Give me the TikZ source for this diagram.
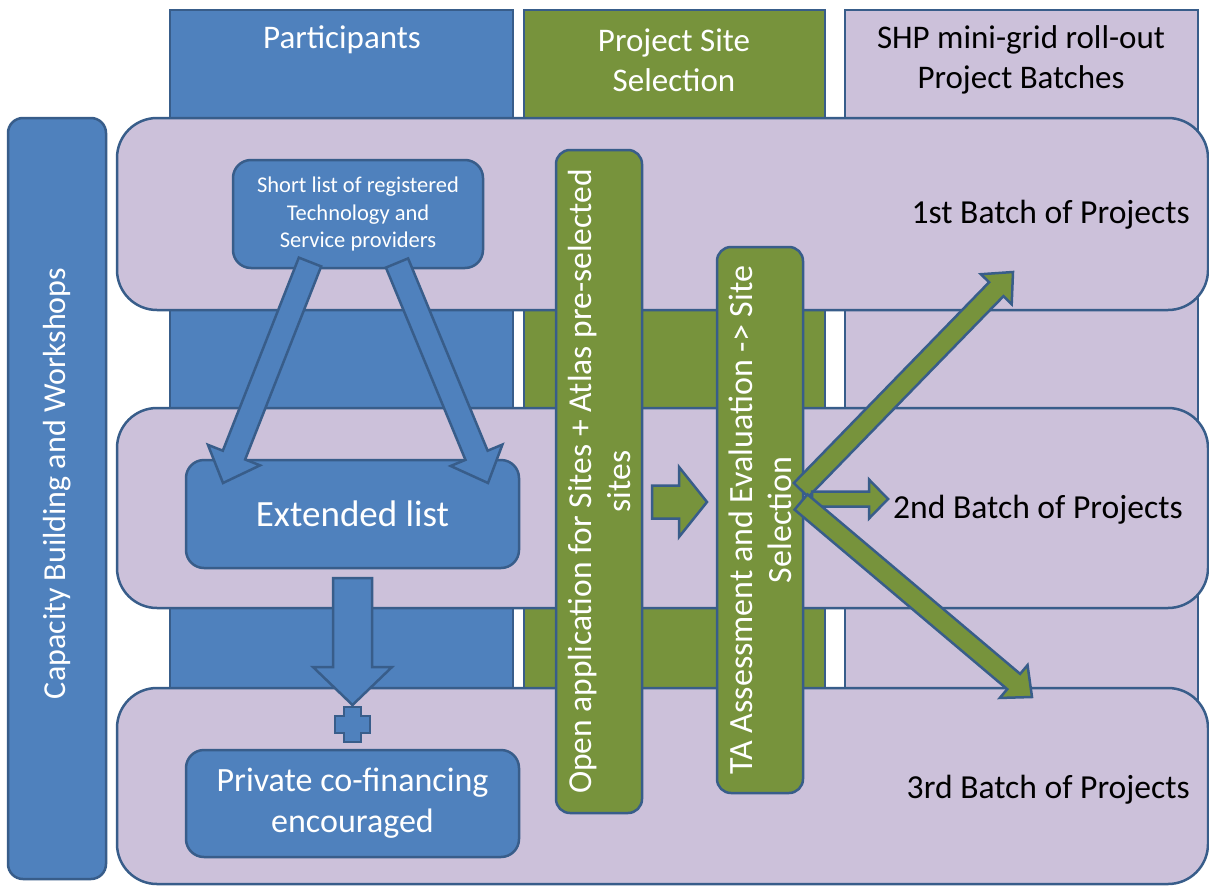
\documentclass[tikz,border=0pt]{standalone}
\usepackage{fontspec}
\setmainfont{Carlito}
\usetikzlibrary{calc}
\definecolor{cblue}{HTML}{4F81BD}
\definecolor{cedge}{HTML}{385D8A}
\definecolor{cgreen}{HTML}{77933C}
\definecolor{clav}{HTML}{CCC1DA}
\tikzset{
  colrect/.style={draw=cedge, line width=2.5pt},
  band/.style={draw=cedge, fill=clav, line width=2.5pt, rounded corners=40pt},
  bluebox/.style={draw=cedge, fill=cblue, line width=2.5pt, rounded corners=18pt, text=white, align=center, inner sep=0pt},
  greenbox/.style={draw=cedge, fill=cgreen, line width=2.5pt, rounded corners=14pt, text=white, align=center, inner sep=0pt},
  hdr/.style={align=center, inner sep=0pt, font=\fontsize{33}{40}\selectfont},
  batch/.style={inner sep=0pt, text=black},
  bluearr/.style={draw=cedge, fill=cblue, line width=2.5pt, line join=miter},
  greenarr/.style={draw=cedge, fill=cgreen, line width=2.5pt, line join=miter},
}
% #1 style, #2 tail, #3 tip, #4 half shaft, #5 half head, #6 head length
\newcommand{\blockarrow}[6]{%
  \path ($(#3)!#6!(#2)$) coordinate (hb);
  \draw[#1] ($(#2)!#4!90:(#3)$) -- ($(hb)!#4!-90:(#2)$) -- ($(hb)!#5!-90:(#2)$)
    -- (#3) -- ($(hb)!#5!90:(#2)$) -- ($(hb)!#4!90:(#2)$) -- ($(#2)!#4!-90:(#3)$) -- cycle;}
\begin{document}
\begin{tikzpicture}[x=1pt,y=-1pt]
\useasboundingbox[fill=white] (0,0) rectangle (1209,886);
% columns
\draw[colrect, fill=cblue] (170,10) rectangle (513,870);
\draw[colrect, fill=cgreen] (524,10) rectangle (825,870);
\draw[colrect, fill=clav] (845,10) rectangle (1198,870);
\node[hdr, text=white] (hpart) at (342,40) {Participants};
\node[hdr, text=white] (hsite) at (674,60) {Project Site\\Selection};
\node[hdr, text=black] (hshp) at (1021,60) {SHP mini-grid roll-out\\Project Batches};
% left box
\node[bluebox, rounded corners=15pt, minimum width=761pt, minimum height=98pt, rotate=90,
  font=\fontsize{32}{38}\selectfont] (cap) at (57,498.5) {\hspace*{30pt}Capacity Building and Workshops};
% bands
\draw[band] (117,118) rectangle (1208,310);
\draw[band] (117,408) rectangle (1208,608);
\draw[band] (117,688) rectangle (1208,884);
% batch labels
\node[batch, anchor=east, font=\fontsize{33.6}{40}\selectfont] (b1) at (1190,215) {1st Batch of Projects};
\node[batch, anchor=west, font=\fontsize{33.6}{40}\selectfont] (b2) at (893,510) {2nd Batch of Projects};
\node[batch, anchor=east, font=\fontsize{33.6}{40}\selectfont] (b3) at (1190,790) {3rd Batch of Projects};
% participant boxes
\node[bluebox, minimum width=250pt, minimum height=108pt, font=\fontsize{22.5}{27.5}\selectfont]
  (short) at (358,214) {Short list of registered\\Technology and\\Service providers};
\node[bluebox, minimum width=333pt, minimum height=108pt, font=\fontsize{37}{44}\selectfont]
  (ext) at (352.5,514) {Extended list};
\node[bluebox, minimum width=333pt, minimum height=107pt, font=\fontsize{34}{41}\selectfont]
  (priv) at (352.5,803.5) {Private co-financing\\encouraged};
% green vertical boxes
\node[greenbox, rotate=90, minimum width=663pt, minimum height=86pt,
  font=\fontsize{33.5}{39}\selectfont] (open) at (599,481.5)
  {Open application for Sites + Atlas pre-selected\\sites};
\node[greenbox, rotate=90, minimum width=546pt, minimum height=86pt,
  font=\fontsize{34}{39}\selectfont] (ta) at (760,520)
  {TA Assessment and Evaluation -> Site\\Selection};
% arrow end points
\coordinate (l1) at (310,262); \coordinate (l2) at (223,483);
\coordinate (r1) at (397,263); \coordinate (r2) at (488,483);
\coordinate (d1) at (352.5,578); \coordinate (d2) at (352.5,705);
\coordinate (g1) at (652,502); \coordinate (g2) at (707,502);
\coordinate (u1) at (801,490); \coordinate (u2) at (1013,272);
\coordinate (m1) at (812,499); \coordinate (m2) at (888,499);
\coordinate (w1) at (801,502); \coordinate (w2) at (1032,697);
\blockarrow{bluearr}{l1}{l2}{12pt}{28pt}{30pt}
\blockarrow{bluearr}{r1}{r2}{12pt}{28pt}{30pt}
\blockarrow{bluearr}{d1}{d2}{19.5pt}{39.5pt}{38pt}
\blockarrow{greenarr}{g1}{g2}{16.5pt}{35pt}{28pt}
\blockarrow{greenarr}{u1}{u2}{10pt}{21.5pt}{24pt}
\blockarrow{greenarr}{m1}{m2}{7.5pt}{19.5pt}{19pt}
\blockarrow{greenarr}{w1}{w2}{10pt}{21.5pt}{24pt}
% plus sign
\coordinate (plus) at (352.5,724.5);
\draw[bluearr] ($(plus)+(-8.5,-17.5)$) -- ++(17,0) -- ++(0,9) -- ++(9,0) -- ++(0,17) -- ++(-9,0)
  -- ++(0,9) -- ++(-17,0) -- ++(0,-9) -- ++(-9,0) -- ++(0,-17) -- ++(9,0) -- cycle;
\end{tikzpicture}
\end{document}
